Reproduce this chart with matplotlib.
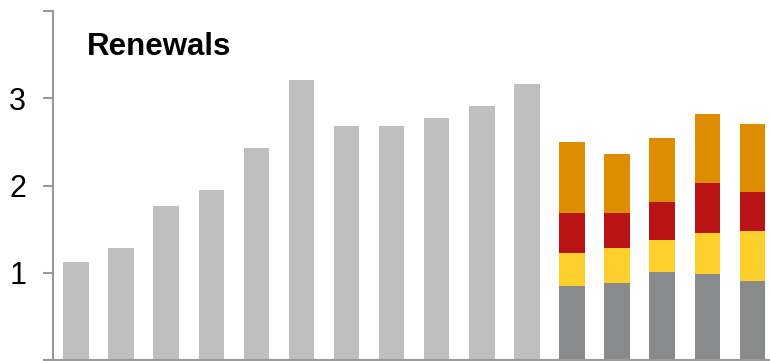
import numpy as np
import matplotlib
matplotlib.use("Agg")
import matplotlib.pyplot as plt

plt.rcParams["font.family"] = ["Liberation Sans", "DejaVu Sans"]

# historical totals (single grey bars)
hist = [1.12, 1.28, 1.77, 1.95, 2.43, 3.21, 2.68, 2.68, 2.77, 2.91, 3.16]

# projected bars, stacked from the bottom up
proj_base = [0.85, 0.88, 1.01, 0.99, 0.91]
proj_yellow = [0.38, 0.40, 0.36, 0.47, 0.57]
proj_red = [0.46, 0.40, 0.44, 0.57, 0.44]
proj_orange = [0.81, 0.68, 0.74, 0.79, 0.79]

yticks = [0, 1, 2, 3, 4]
ylabels = ["", "1", "2", "3", ""]
title = "Renewals"

fig = plt.figure(figsize=(7.70, 3.61), dpi=100)
ax = fig.add_axes([53 / 770, 1 / 361, 717 / 770, 349 / 361])

w = 0.565
xh = np.arange(len(hist))
ax.bar(xh, hist, width=w, color="#BFBFBF")

xp = np.arange(len(hist), len(hist) + len(proj_base))
bottom = np.zeros(len(xp))
for vals, col in [(proj_base, "#898A8C"), (proj_yellow, "#FDD02B"),
                  (proj_red, "#B91316"), (proj_orange, "#DE8C00")]:
    ax.bar(xp, vals, width=w, bottom=bottom, color=col)
    bottom += np.array(vals)

ax.set_xlim(-0.51, 15.39)
ax.set_ylim(0, 4)
ax.set_yticks(yticks)
ax.set_yticklabels(ylabels, fontsize=22)
ax.set_xticks([])
ax.tick_params(axis="y", direction="out", length=7.2, width=1.5,
               color="#999999", pad=12)

for s in ["top", "right"]:
    ax.spines[s].set_visible(False)
for s in ["left", "bottom"]:
    ax.spines[s].set_color("#999999")
    ax.spines[s].set_linewidth(1.5)

ax.text(0.25, 3.496, title, fontsize=22.5, fontweight="bold",
        va="baseline", ha="left")

fig.savefig("out.png", dpi=100)
